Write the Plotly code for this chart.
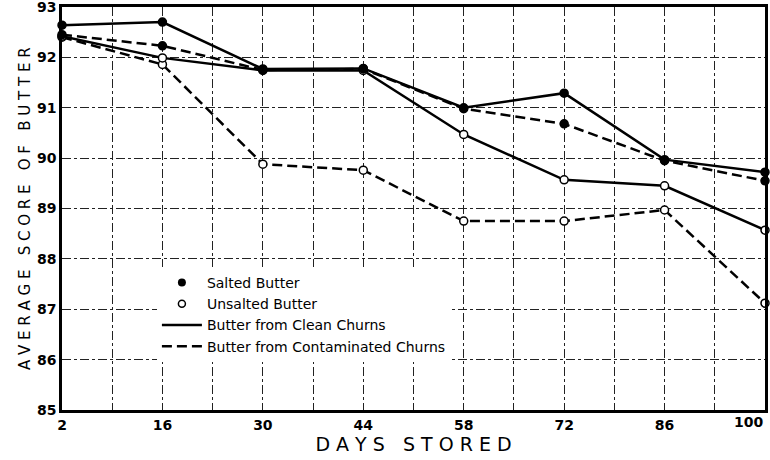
import plotly.graph_objects as go

days = [2, 16, 30, 44, 58, 72, 86, 100]
salted_clean = [92.64, 92.70, 91.77, 91.78, 91.0, 91.29, 89.97, 89.72]
salted_contam = [92.45, 92.23, 91.75, 91.77, 90.98, 90.68, 89.95, 89.55]
unsalted_clean = [92.42, 91.99, 91.74, 91.74, 90.47, 89.57, 89.45, 88.57]
unsalted_contam = [92.40, 91.86, 89.88, 89.76, 88.75, 88.75, 88.97, 87.12]
x_ticks = [2, 16, 30, 44, 58, 72, 86, 100]
x_labels = ["2", "16", "30", "44", "58", "72", "86", ""]
last_label = "100"
y_ticks = [85, 86, 87, 88, 89, 90, 91, 92, 93]

FONT = "DejaVu Sans"
DASH = "10px,5px"
fig = go.Figure()

def add(y, dash, filled):
    fig.add_trace(go.Scatter(
        x=days, y=y, mode="lines+markers", showlegend=False, cliponaxis=False,
        line=dict(color="black", width=2.5, dash=dash),
        marker=dict(size=8, color="black" if filled else "white",
                    line=dict(color="black", width=1.5)),
    ))

add(unsalted_contam, DASH, False)
add(unsalted_clean, "solid", False)
add(salted_contam, DASH, True)
add(salted_clean, "solid", True)

# legend key entries
fig.add_trace(go.Scatter(x=[None], y=[None], mode="markers", name="Salted Butter",
                         marker=dict(size=8, color="black")))
fig.add_trace(go.Scatter(x=[None], y=[None], mode="markers", name="Unsalted Butter",
                         marker=dict(size=7, color="white", line=dict(color="black", width=1.5))))
fig.add_trace(go.Scatter(x=[None], y=[None], mode="lines", name="Butter from Clean Churns",
                         line=dict(color="black", width=2.5)))
fig.add_trace(go.Scatter(x=[None], y=[None], mode="lines", name="Butter from Contaminated Churns",
                         line=dict(color="black", width=2.5, dash=DASH)))

grid = dict(showgrid=True, gridcolor="#222", gridwidth=1, griddash="dashdot")
fig.update_xaxes(range=[2, 100], tickvals=x_ticks, ticktext=x_labels,
                 showline=True, linecolor="black", linewidth=2.5, mirror=True,
                 ticks="", zeroline=False, automargin=False, ticklabeloverflow="allow",
                 minor=dict(dtick=7, tick0=2, showgrid=True, gridcolor="#222",
                            gridwidth=1, griddash="dashdot"),
                 tickfont=dict(family=FONT, size=14, color="black", weight="bold"),
                 title=dict(text="D A Y S   S T O R E D", font=dict(family=FONT, size=19, color="black"),
                            standoff=4),
                 **grid)
fig.update_yaxes(range=[85, 93], tickvals=y_ticks, showline=True, linecolor="black",
                 linewidth=2.5, mirror=True, ticks="", zeroline=False, automargin=False,
                 ticklabeloverflow="allow",
                 tickfont=dict(family=FONT, size=14, color="black", weight="bold"),
                 **grid)

fig.add_annotation(text=last_label, xref="x", yref="paper", x=x_ticks[-1], y=0,
                   xanchor="right", yanchor="top", yshift=-2, showarrow=False,
                   font=dict(family=FONT, size=14, color="black", weight="bold"))

fig.add_annotation(text="A V E R A G E   S C O R E   O F   B U T T E R",
                   xref="paper", yref="paper", x=-0.069, y=0.5, textangle=-90,
                   showarrow=False, font=dict(family=FONT, size=15, color="black"))

fig.update_layout(
    width=770, height=460,
    margin=dict(l=62, r=5, t=7, b=50),
    plot_bgcolor="white", paper_bgcolor="white",
    font=dict(family=FONT, color="black"),
    legend=dict(x=0.135, y=0.355, xanchor="left", yanchor="top", bgcolor="white",
                font=dict(family=FONT, size=14, color="black"),
                itemwidth=40, tracegroupgap=0),
)

fig.write_html("out.html", config={"displayModeBar": False},
               post_script="document.body.style.margin='0';document.body.style.overflow='hidden';")
